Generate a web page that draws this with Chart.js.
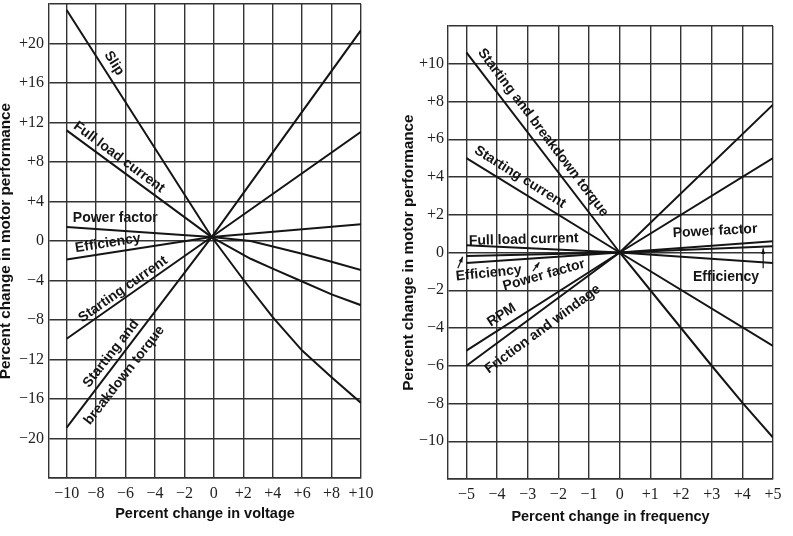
<!DOCTYPE html>
<html><head><meta charset="utf-8">
<script src="https://cdn.jsdelivr.net/npm/chart.js@4.4.1/dist/chart.umd.min.js"></script>
<style>
html,body{margin:0;padding:0;background:#fff;width:793px;height:536px;overflow:hidden}
#c1{position:absolute;left:0;top:0}
#c2{position:absolute;left:395px;top:0}
</style></head><body>
<canvas id="c1" width="395" height="536"></canvas>
<canvas id="c2" width="398" height="536"></canvas>
<script>
// ---------- Left chart: percent change in voltage ----------
const voltTicks = [-10, -8, -6, -4, -2, 0, 2, 4, 6, 8, 10];
const voltPerfTicks = [-24, -20, -16, -12, -8, -4, 0, 4, 8, 12, 16, 20, 24];
const voltPerfLabels = [-20, -16, -12, -8, -4, 0, 4, 8, 12, 16, 20];

const slipX = [-10, -0.15, 2, 4, 6, 8, 10];
const slipY = [23.4, 0.4, -3.9, -7.7, -11.1, -13.8, -16.4];
const flcVX = [-10, -0.15, 2.5, 4, 6, 8, 10];
const flcVY = [11.2, 0.4, -1.8, -2.8, -4.1, -5.4, -6.5];
const pfVX = [-10, -0.15, 2.5, 6, 8, 10];
const pfVY = [1.43, 0.4, 0.0, -1.3, -2.1, -2.95];
const effVX = [-10, -0.15, 10];
const effVY = [-1.87, 0.4, 1.7];
const scVX = [-10, -0.15, 10];
const scVY = [-9.9, 0.4, 11.05];
const torqueVX = [-10, -0.15, 10];
const torqueVY = [-18.9, 0.4, 21.35];

// ---------- Right chart: percent change in frequency ----------
const freqTicks = [-5, -4, -3, -2, -1, 0, 1, 2, 3, 4, 5];
const freqPerfTicks = [-12, -10, -8, -6, -4, -2, 0, 2, 4, 6, 8, 10, 12];
const freqPerfLabels = [-10, -8, -6, -4, -2, 0, 2, 4, 6, 8, 10];

const torqueFX = [-5, 0, 1, 2, 3, 4, 5];
const torqueFY = [10.6, 0, -2.0, -4.0, -6.0, -7.95, -9.8];
const scFX = [-5, 0, 5];
const scFY = [5.0, 0, -4.95];
const flcFX = [-5, 0, 5];
const flcFY = [0.38, 0, -0.55];
const effFX = [-5, 0, 5];
const effFY = [-0.18, 0, 0.33];
const pfFX = [-5, 0, 5];
const pfFY = [-0.55, 0, 0.6];
const rpmFX = [-5, 0, 5];
const rpmFY = [-5.2, 0, 5.0];
const fwFX = [-5, 0, 5];
const fwFY = [-6.0, 0, 7.83];

// ---------- helpers ----------
const INK = '#151515';
const GRID = '#333333';
const SANS = '"Liberation Sans", Arial, Helvetica, sans-serif';
const SERIF = '"Liberation Serif", "Times New Roman", serif';

function pts(xs, ys) { return xs.map((x, i) => ({x: x, y: ys[i]})); }
function ds(label, xs, ys) {
  return {label: label, data: pts(xs, ys), borderColor: INK, borderWidth: 2,
          pointRadius: 0, tension: 0, fill: false};
}
function fmt(v) { return v > 0 ? '+' + v : (v < 0 ? '\u2212' + (-v) : '0'); }

const curveLabels = {
  id: 'curveLabels',
  afterDatasetsDraw(chart, args, opts) {
    const ctx = chart.ctx, xs = chart.scales.x, ys = chart.scales.y;
    ctx.save();
    ctx.fillStyle = INK;
    ctx.strokeStyle = INK;
    ctx.font = 'bold 14px ' + SANS;
    ctx.textAlign = 'center';
    ctx.textBaseline = 'middle';
    (opts.items || []).forEach(it => {
      const px = xs.getPixelForValue(it.x), py = ys.getPixelForValue(it.y);
      ctx.save();
      ctx.translate(px, py);
      ctx.rotate(it.rot * Math.PI / 180);
      ctx.fillText(it.text, 0, 0);
      ctx.restore();
    });
    ctx.lineWidth = 1.2;
    (opts.arrows || []).forEach(a => {
      const x1 = xs.getPixelForValue(a.x1), y1 = ys.getPixelForValue(a.y1);
      const x2 = xs.getPixelForValue(a.x2), y2 = ys.getPixelForValue(a.y2);
      const ang = Math.atan2(y2 - y1, x2 - x1);
      ctx.beginPath(); ctx.moveTo(x1, y1); ctx.lineTo(x2, y2); ctx.stroke();
      ctx.beginPath();
      ctx.moveTo(x2, y2);
      ctx.lineTo(x2 - 6 * Math.cos(ang - 0.35), y2 - 6 * Math.sin(ang - 0.35));
      ctx.lineTo(x2 - 6 * Math.cos(ang + 0.35), y2 - 6 * Math.sin(ang + 0.35));
      ctx.closePath(); ctx.fill();
    });
    ctx.restore();
  }
};

function makeChart(id, cfg) {
  return new Chart(document.getElementById(id), {
    type: 'line',
    data: {datasets: cfg.datasets},
    plugins: [curveLabels],
    options: {
      responsive: false, animation: false, devicePixelRatio: 1,
      layout: {padding: cfg.padding},
      plugins: {legend: {display: false}, tooltip: {enabled: false},
                curveLabels: {items: cfg.labels, arrows: cfg.arrows}},
      scales: {
        x: {
          type: 'linear', min: cfg.xMin, max: cfg.xMax,
          afterBuildTicks: s => { s.ticks = cfg.xTicks.map(v => ({value: v})); },
          afterFit: s => { s.height = cfg.xHeight; s.paddingLeft = 0; s.paddingRight = 0; },
          grid: {color: GRID, lineWidth: 1.4, drawTicks: false},
          border: {display: true, color: GRID, width: 1.4},
          ticks: {padding: 6, color: '#222', font: {family: SERIF, size: 16},
                  maxRotation: 0, autoSkip: false, callback: v => fmt(v)},
          title: {display: true, text: cfg.xTitle, color: '#111',
                  font: {family: SANS, size: 14.5, weight: 'bold', lineHeight: 1},
                  padding: {top: 0, bottom: cfg.xTitlePad}}
        },
        y: {
          type: 'linear', min: cfg.yMin, max: cfg.yMax,
          afterBuildTicks: s => { s.ticks = cfg.yTicks.map(v => ({value: v})); },
          afterFit: s => { s.width = cfg.yWidth; s.paddingTop = 0; s.paddingBottom = 0; },
          grid: {color: GRID, lineWidth: 1.4, drawTicks: false},
          border: {display: true, color: GRID, width: 1.4},
          ticks: {padding: cfg.yTickPad, color: '#222', font: {family: SERIF, size: 16},
                  autoSkip: false,
                  callback: v => cfg.yLabels.includes(v) ? fmt(v) : ''},
          title: {display: true, text: 'Percent change in motor performance', color: '#111',
                  font: {family: SANS, size: 15.3, weight: 'bold', lineHeight: 1},
                  padding: {top: cfg.yTitlePad, bottom: 0}}
        }
      }
    }
  });
}

makeChart('c1', {
  datasets: [
    ds('Slip', slipX, slipY),
    ds('Full load current', flcVX, flcVY),
    ds('Power factor', pfVX, pfVY),
    ds('Efficiency', effVX, effVY),
    ds('Starting current', scVX, scVY),
    ds('Starting and breakdown torque', torqueVX, torqueVY)
  ],
  padding: {left: 0, top: 4, right: 34, bottom: 0},
  xMin: -11.2, xMax: 10, yMin: -24, yMax: 24,
  xTicks: voltTicks, yTicks: voltPerfTicks, yLabels: voltPerfLabels,
  xHeight: 58, yWidth: 49, yTickPad: 5, xTitlePad: 15, yTitlePad: -1.5,
  xTitle: 'Percent change in voltage',
  labels: [
    {text: 'Slip', x: -6.78, y: 18.0, rot: 57.6},
    {text: 'Full load current', x: -6.44, y: 8.48, rot: 36.5},
    {text: 'Power factor', x: -6.7, y: 2.3, rot: 0},
    {text: 'Efficiency', x: -7.2, y: -0.23, rot: -9},
    {text: 'Starting current', x: -6.17, y: -4.9, rot: -35},
    {text: 'Starting and', x: -6.98, y: -11.4, rot: -52},
    {text: 'breakdown torque', x: -6.08, y: -13.6, rot: -52}
  ],
  arrows: []
});

makeChart('c2', {
  datasets: [
    ds('Starting and breakdown torque', torqueFX, torqueFY),
    ds('Starting current', scFX, scFY),
    ds('Full load current', flcFX, flcFY),
    ds('Efficiency', effFX, effFY),
    ds('Power factor', pfFX, pfFY),
    ds('RPM', rpmFX, rpmFY),
    ds('Friction and windage', fwFX, fwFY)
  ],
  padding: {left: 0, top: 26, right: 20, bottom: 0},
  xMin: -5.6, xMax: 5, yMin: -12, yMax: 12,
  xTicks: freqTicks, yTicks: freqPerfTicks, yLabels: freqPerfLabels,
  xHeight: 57, yWidth: 53, yTickPad: 4, xTitlePad: 12, yTitlePad: 6.5,
  xTitle: 'Percent change in frequency',
  labels: [
    {text: 'Starting and breakdown torque', x: -2.5, y: 6.35, rot: 52.8},
    {text: 'Starting current', x: -3.25, y: 4.0, rot: 32},
    {text: 'Full load current', x: -3.13, y: 0.68, rot: -1.5},
    {text: 'Efficiency', x: -4.27, y: -1.1, rot: -6},
    {text: 'Power factor', x: -2.47, y: -1.2, rot: -16},
    {text: 'RPM', x: -3.85, y: -3.32, rot: -33},
    {text: 'Friction and windage', x: -2.51, y: -4.06, rot: -36.5},
    {text: 'Power factor', x: 3.11, y: 1.13, rot: -3},
    {text: 'Efficiency', x: 3.47, y: -1.31, rot: 0}
  ],
  arrows: [
    {x1: -5.28, y1: -0.83, x2: -5.12, y2: -0.22},
    {x1: -2.83, y1: -0.99, x2: -2.62, y2: -0.52},
    {x1: 4.68, y1: -0.83, x2: 4.68, y2: 0.22}
  ]
});
</script>
</body></html>
